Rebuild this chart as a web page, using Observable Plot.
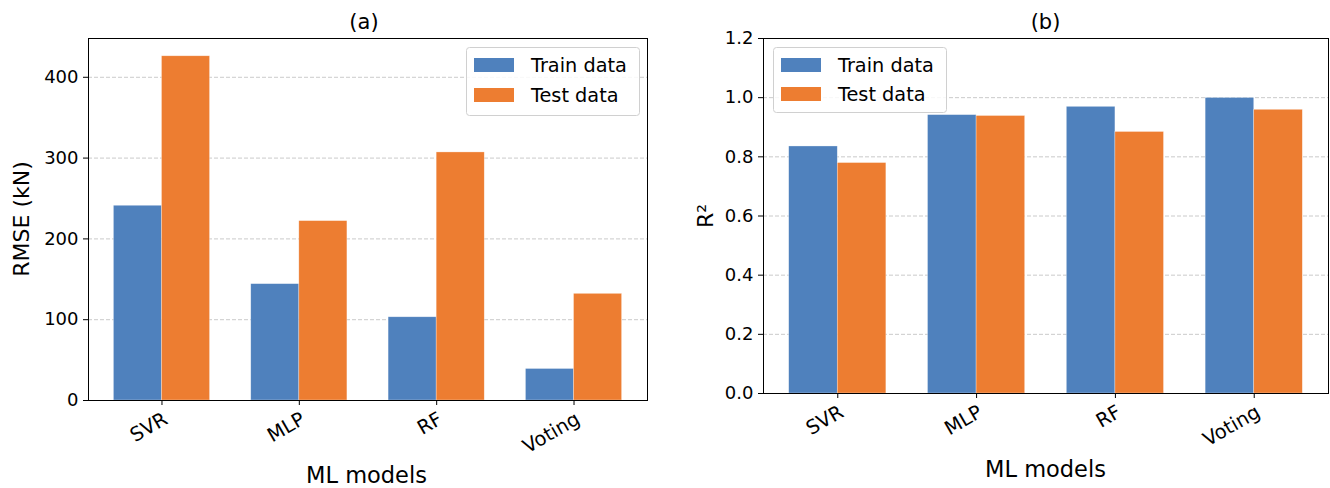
<!DOCTYPE html>
<html><head><meta charset="utf-8">
<script src="https://cdn.jsdelivr.net/npm/d3@7"></script>
<script src="https://cdn.jsdelivr.net/npm/@observablehq/plot@0.6"></script>
<style>
body{margin:0;background:#fff;}
#wrap{position:relative;width:1330px;height:488px;font-family:"DejaVu Sans",sans-serif;overflow:hidden;}
#wrap > svg{position:absolute;top:0;}
</style></head><body><div id="wrap"></div>
<script>
const models = ["SVR", "MLP", "RF", "Voting"];
const series = ["Train data", "Test data"];
const colors = ["#4f81bd", "#ed7d31"];
const rmseTrain = [241, 144, 103, 39];
const rmseTest = [426, 222, 307, 132];
const r2Train = [0.835, 0.941, 0.969, 0.999];
const r2Test = [0.779, 0.938, 0.884, 0.959];
const rmseTicks = [0, 100, 200, 300, 400];
const r2Ticks = [0, 0.2, 0.4, 0.6, 0.8, 1.0, 1.2];
const barWidth = 0.35;

function rows(train, test) {
  return models.flatMap((m, i) => [
    {model: m, i, series: series[0], value: train[i], x1: i - barWidth, x2: i},
    {model: m, i, series: series[1], value: test[i], x1: i, x2: i + barWidth}
  ]);
}

function panel({data, yDomain, yTicks, yFormat, left, marginLeft, marginRight, marginBottom}) {
  const xTicks = models.map((m, i) => i);
  const svg = Plot.plot({
    width: 660, height: 488, marginTop: 38, marginLeft, marginRight, marginBottom,
    style: {fontFamily: "DejaVu Sans", fontSize: "18px", color: "#000", background: "transparent", overflow: "visible"},
    x: {domain: [-0.535, 3.535]},
    y: {domain: yDomain},
    color: {domain: series, range: colors},
    marks: [
      Plot.ruleY(yTicks.slice(1), {stroke: "#b8b8b8", strokeOpacity: 0.75, strokeDasharray: "4,2", strokeWidth: 1}),
      Plot.rect(data, {x1: "x1", x2: "x2", y1: 0, y2: "value", fill: "series", stroke: "white", strokeWidth: 0.6, strokeOpacity: 0.5}),
      Plot.frame({stroke: "#000", strokeWidth: 1}),
      Plot.axisY({ticks: yTicks, tickFormat: yFormat, tickSize: 5, tickPadding: 5, label: null}),
      Plot.axisX({ticks: xTicks, tickFormat: () => "", tickSize: 5, label: null}),
      Plot.axisX({ticks: xTicks, tickFormat: i => models[i], tickSize: 0, tickPadding: 10, tickRotate: -30, label: null, dx: 4, dy: 7, fontSize: 19.5})
    ]
  });
  svg.style.left = left + "px";
  return svg;
}

const wrap = document.getElementById("wrap");
wrap.appendChild(panel({data: rows(rmseTrain, rmseTest), yDomain: [0, 448], yTicks: rmseTicks, yFormat: d => String(d), left: 0, marginLeft: 88, marginRight: 13, marginBottom: 88}));
wrap.appendChild(panel({data: rows(r2Train, r2Test), yDomain: [0, 1.2], yTicks: r2Ticks, yFormat: d => d.toFixed(1), left: 670, marginLeft: 93, marginRight: 2, marginBottom: 95}));

// overlay: titles, axis labels, legends
const ns = "http://www.w3.org/2000/svg";
const ov = document.createElementNS(ns, "svg");
ov.setAttribute("width", 1330); ov.setAttribute("height", 488);
ov.style.left = "0px";
ov.style.fontFamily = "DejaVu Sans";
function txt(s, x, y, size, opts = {}) {
  const t = document.createElementNS(ns, "text");
  t.textContent = s;
  t.setAttribute("x", x); t.setAttribute("y", y);
  t.setAttribute("font-size", size);
  t.setAttribute("text-anchor", opts.anchor || "middle");
  if (opts.rotate) t.setAttribute("transform", `rotate(${opts.rotate},${x},${y})`);
  t.setAttribute("fill", "#000");
  ov.appendChild(t);
}
txt("(a)", 364, 29, 21);
txt("(b)", 1045.5, 29, 21);
txt("ML models", 366.5, 483, 22.5);
txt("ML models", 1045.5, 477, 22.5);
txt("RMSE (kN)", 29, 219, 22, {rotate: -90});
txt("R²", 713, 216, 22, {rotate: -90});

function legend(x, y, w, h, p1, p2) {
  const r = document.createElementNS(ns, "rect");
  r.setAttribute("x", x + 0.5); r.setAttribute("y", y + 0.5);
  r.setAttribute("width", w); r.setAttribute("height", h);
  r.setAttribute("rx", 3); r.setAttribute("fill", "#fff"); r.setAttribute("fill-opacity", 0.85);
  r.setAttribute("stroke", "#d0d0d0");
  ov.appendChild(r);
  [p1, p2].forEach((py, k) => {
    const p = document.createElementNS(ns, "rect");
    p.setAttribute("x", x + 8); p.setAttribute("y", py);
    p.setAttribute("width", 40); p.setAttribute("height", 14);
    p.setAttribute("fill", colors[k]);
    ov.appendChild(p);
    txt(series[k], x + 65, py + 14, 19.3, {anchor: "start"});
  });
}
legend(466, 47, 173, 68, 58, 88);
legend(773, 47, 173, 65, 58, 87);
wrap.appendChild(ov);
</script></body></html>
